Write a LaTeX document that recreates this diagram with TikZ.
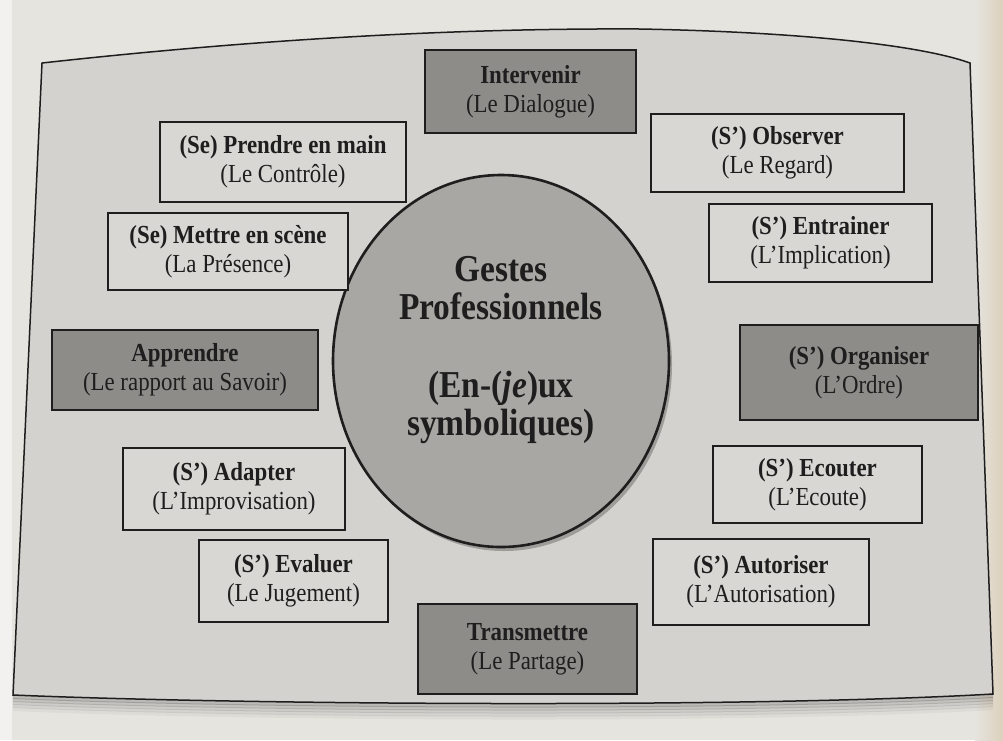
\documentclass[tikz,border=0pt]{standalone}
\usepackage{fontspec}
\setmainfont[FakeStretch=0.88]{Liberation Serif}
\usetikzlibrary{shapes.geometric}

\definecolor{page}{HTML}{E6E4DF}
\definecolor{pagerim}{HTML}{DCD0BC}
\definecolor{panel}{HTML}{D3D2CE}
\definecolor{lightbox}{HTML}{D8D7D3}
\definecolor{darkbox}{HTML}{8E8C89}
\definecolor{disc}{HTML}{A9A7A3}
\definecolor{ink}{HTML}{1E1E1E}

\tikzset{
  gbox/.style={rectangle, draw=ink, line width=1.8pt, inner sep=0pt,
    align=center, text=ink, font=\fontsize{26}{29}\selectfont},
  whitebox/.style={gbox, fill=lightbox},
  greybox/.style={gbox, fill=darkbox},
}

\begin{document}
\begin{tikzpicture}[x=1pt, y=-1pt]
  % page
  \fill[page] (0,0) rectangle (1003,740);
  \fill[white, opacity=0.5] (0,0) rectangle (12,740);
  \shade[left color=page, right color=pagerim] (975,0) rectangle (1003,740);
  \useasboundingbox (0,0) rectangle (1003,740);

  % soft shadow under the panel
  \foreach \d/\o in {2/0.18, 5/0.14, 8/0.10, 11/0.07, 14/0.04}{
    \draw[black, line width=4pt, opacity=\o]
      (13,695+\d) .. controls (250,705+\d) and (750,708+\d) .. (993,694+\d);
  }

  % panel
  \draw[fill=panel, draw=ink, line width=1.5pt]
    (42,63) .. controls (250,40) and (450,28) .. (640,29)
    .. controls (800,32) and (920,45) .. (970,63)
    -- (993,694)
    .. controls (750,708) and (250,705) .. (13,695)
    -- cycle;

  % central disc
  \fill[black, opacity=0.25] (504,365) ellipse [x radius=168pt, y radius=186pt];
  \node[ellipse, draw=ink, line width=2.6pt, fill=disc, minimum width=336pt,
        minimum height=372pt, inner sep=0pt] (gestes) at (501,361) {};
  \node[align=center, text=ink, inner sep=0pt,
        font=\fontsize{38}{38}\selectfont\bfseries] (gestestext) at (501,350)
    {Gestes\\Professionnels\\[40pt](En-(\textit{je})ux\\symboliques)};

  % surrounding gestures
  \node[greybox, minimum width=211pt, minimum height=83pt] (intervenir) at (530.5,91.5)
    {\textbf{Intervenir}\\(Le Dialogue)};
  \node[whitebox, minimum width=246pt, minimum height=80pt] (prendre) at (283,162)
    {\textbf{(Se) Prendre en main}\\(Le Contrôle)};
  \node[whitebox, minimum width=240pt, minimum height=77pt] (mettre) at (228,251.5)
    {\textbf{(Se) Mettre en scène}\\(La Présence)};
  \node[whitebox, minimum width=253pt, minimum height=78pt] (observer) at (777.5,153)
    {\textbf{(S’) Observer}\\(Le Regard)};
  \node[whitebox, minimum width=223pt, minimum height=78pt] (entrainer) at (820.5,243)
    {\textbf{(S’) Entrainer}\\(L’Implication)};
  \node[greybox, minimum width=266pt, minimum height=80pt] (apprendre) at (185,370)
    {\textbf{Apprendre}\\(Le rapport au Savoir)};
  \node[greybox, minimum width=238pt, minimum height=95pt] (organiser) at (859,372.5)
    {\textbf{(S’) Organiser}\\(L’Ordre)};
  \node[whitebox, minimum width=222pt, minimum height=82pt] (adapter) at (234,489)
    {\textbf{(S’) Adapter}\\(L’Improvisation)};
  \node[whitebox, minimum width=209pt, minimum height=77pt] (ecouter) at (817.5,484.5)
    {\textbf{(S’) Ecouter}\\(L’Ecoute)};
  \node[whitebox, minimum width=189pt, minimum height=82pt] (evaluer) at (293.5,581)
    {\textbf{(S’) Evaluer}\\(Le Jugement)};
  \node[whitebox, minimum width=216pt, minimum height=86pt] (autoriser) at (761,582)
    {\textbf{(S’) Autoriser}\\(L’Autorisation)};
  \node[greybox, minimum width=219pt, minimum height=90pt] (transmettre) at (527.5,649)
    {\textbf{Transmettre}\\(Le Partage)};
\end{tikzpicture}
\end{document}
